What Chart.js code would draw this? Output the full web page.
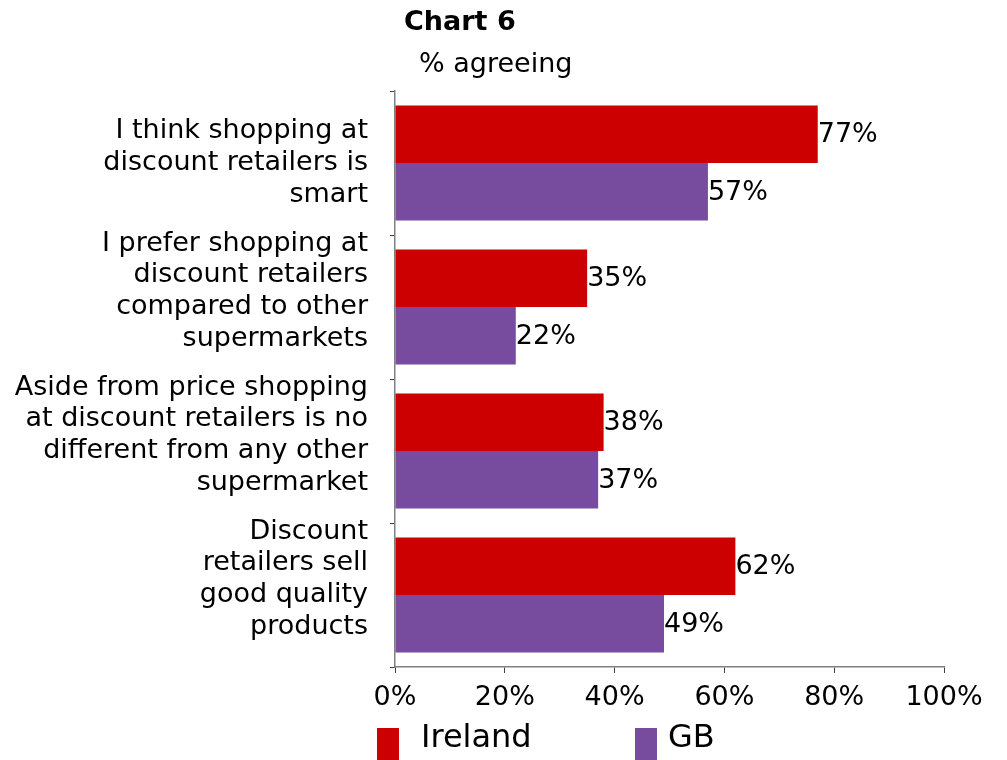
<!DOCTYPE html>
<html>
<head>
<meta charset="utf-8">
<title>Chart 6</title>
<script src="https://cdn.jsdelivr.net/npm/chart.js@4.4.1/dist/chart.umd.min.js"></script>
<style>
  html, body { margin: 0; padding: 0; background: #fff; }
  #wrap { position: relative; width: 1007px; height: 760px; }
</style>
</head>
<body>
<div id="wrap"><canvas id="mycanvas"></canvas></div>
<script>
// survey statements (wrapped the way they appear on the axis)
var statements = [
	['I think shopping at', 'discount retailers is', 'smart'],
	['I prefer shopping at', 'discount retailers', 'compared to other', 'supermarkets', ''],
	['Aside from price shopping', 'at discount retailers is no', 'different from any other', 'supermarket', ''],
	['Discount', 'retailers sell', 'good quality', 'products', '']
];
var ireland = [77, 35, 38, 62];
var gb = [57, 22, 37, 49];
var pctTicks = [0, 20, 40, 60, 80, 100];

var FONT = "'DejaVu Sans', Verdana, sans-serif";

// value labels just past the end of each bar
var valueLabels = {
	id: 'valueLabels',
	afterDatasetsDraw: function(chart) {
		var ctx = chart.ctx;
		ctx.save();
		ctx.font = '27px ' + FONT;
		ctx.fillStyle = '#000';
		ctx.textAlign = 'left';
		ctx.textBaseline = 'middle';
		chart.data.datasets.forEach(function(ds, i) {
			chart.getDatasetMeta(i).data.forEach(function(bar, j) {
				ctx.fillText(ds.data[j] + '%', bar.x, bar.y + 1);
			});
		});
		ctx.restore();
	}
};

// heading and legend, placed off the plot area
var headerLegend = {
	id: 'headerLegend',
	afterDraw: function(chart) {
		var ctx = chart.ctx;
		var left = chart.chartArea.left;
		ctx.save();
		ctx.fillStyle = '#000';
		ctx.textAlign = 'left';
		ctx.textBaseline = 'alphabetic';
		ctx.font = 'bold 27px ' + FONT;
		ctx.fillText('Chart 6', left + 9, 30);
		ctx.font = '27px ' + FONT;
		ctx.fillText('% agreeing', left + 24, 72);

		var offsets = [-18, 240];
		ctx.font = '32px ' + FONT;
		chart.data.datasets.forEach(function(ds, i) {
			var x = left + offsets[i];
			ctx.fillStyle = ds.backgroundColor;
			ctx.fillRect(x, 728, 22, 32);
			ctx.fillStyle = '#000';
			ctx.fillText(ds.label, x + (i === 0 ? 44 : 33), 747);
		});
		ctx.restore();
	}
};

var chartdata = {
	labels: statements,
	datasets: [
		{
			label: 'Ireland',
			backgroundColor: '#CC0000',
			data: ireland
		},
		{
			label: 'GB',
			backgroundColor: '#774B9D',
			data: gb
		}
	]
};

var ctx = document.getElementById('mycanvas');

var barGraph = new Chart(ctx, {
	type: 'bar',
	data: chartdata,
	plugins: [valueLabels, headerLegend],
	options: {
		indexAxis: 'y',
		responsive: true,
		maintainAspectRatio: false,
		animation: false,
		layout: { padding: { top: 91, right: 63, bottom: 43, left: 0 } },
		datasets: { bar: { categoryPercentage: 0.8, barPercentage: 1 } },
		plugins: {
			legend: { display: false },
			title: { display: false },
			tooltip: { enabled: false }
		},
		scales: {
			x: {
				min: 0,
				max: 100,
				afterBuildTicks: function(scale) {
					scale.ticks = pctTicks.map(function(v) { return { value: v }; });
				},
				afterFit: function(scale) {
					scale.height = 50;
					scale.paddingLeft = 0;
					scale.paddingRight = 0;
				},
				grid: { drawOnChartArea: false, tickLength: 6, color: '#404040' },
				border: { color: '#808080', width: 1.5 },
				ticks: {
					padding: 9,
					color: '#000',
					font: { family: FONT, size: 27 },
					callback: function(v) { return v + '%'; }
				}
			},
			y: {
				afterFit: function(scale) {
					scale.width = 395;
					scale.paddingTop = 0;
					scale.paddingBottom = 0;
				},
				grid: { offset: true, drawOnChartArea: false, tickLength: 5, color: '#404040' },
				border: { color: '#808080', width: 1.5 },
				ticks: {
					autoSkip: false,
					padding: 22,
					color: '#000',
					font: { family: FONT, size: 27, lineHeight: 1.17 }
				}
			}
		}
	}
});
</script>
</body>
</html>
